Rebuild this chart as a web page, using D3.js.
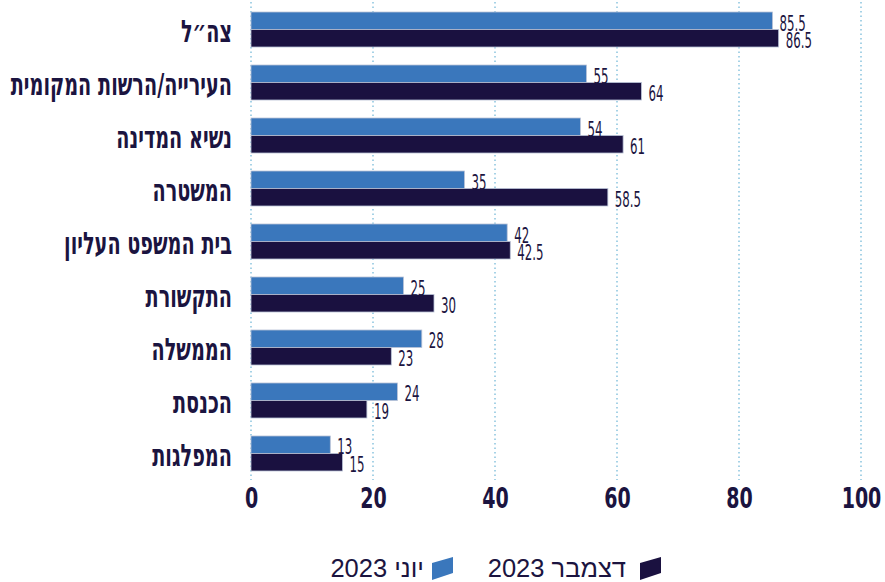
<!DOCTYPE html>
<html lang="he">
<head>
<meta charset="utf-8">
<script src="https://cdn.jsdelivr.net/npm/d3@7"></script>
<style>
  html, body { margin: 0; padding: 0; background: #fff; }
  svg { display: block; }
  .cat { font-family: "DejaVu Sans Condensed", "DejaVu Sans", sans-serif; font-weight: bold; fill: #1b1440; }
  .val { font-family: "DejaVu Sans Condensed", "DejaVu Sans", sans-serif; fill: #1b1440; }
  .tick text { font-family: "DejaVu Sans Condensed", "DejaVu Sans", sans-serif; font-weight: bold; fill: #1b1440; }
  .legend text { font-family: "Liberation Sans", "DejaVu Sans", sans-serif; fill: #1b1440; }
</style>
</head>
<body>
<svg id="chart" width="885" height="582"></svg>
<script>
/* categories, top to bottom */
let categories = ['צה״ל', 'העירייה/הרשות המקומית', 'נשיא המדינה', 'המשטרה', 'בית המשפט העליון', 'התקשורת', 'הממשלה', 'הכנסת', 'המפלגות'];
/* June 2023 */
let june = [85.5, 55, 54, 35, 42, 25, 28, 24, 13];
/* December 2023 */
let december = [86.5, 64, 61, 58.5, 42.5, 30, 23, 19, 15];
let tickValues = [0, 20, 40, 60, 80, 100];
let seriesNames = ['june', 'december'];
let seriesLabels = {june: 'יוני 2023', december: 'דצמבר 2023'};
let colors = {june: '#3a77bc', december: '#1a1140'};

let svg = d3.select('#chart');

/* x: value -> px */
let x = d3.scaleLinear().domain([0, 100]).range([251, 861]);
/* y: category rows */
let y = d3.scaleBand()
    .domain(categories)
    .range([3, 480])
    .paddingInner(18 / 53)
    .paddingOuter(0.17);
/* y inside a row: one band per series */
let ySub = d3.scaleBand().domain(seriesNames).range([0, y.bandwidth()]);

/* dotted gridlines */
svg.append('g')
    .selectAll('line')
    .data(tickValues)
    .join('line')
    .attr('x1', d => x(d))
    .attr('x2', d => x(d))
    .attr('y1', 2)
    .attr('y2', 480)
    .attr('stroke', '#a6d2e6')
    .attr('stroke-width', 2)
    .attr('stroke-dasharray', '1.5,3');

let rows = categories.map((c, i) => ({cat: c, june: june[i], december: december[i]}));

let groups = svg.append('g')
    .selectAll('g')
    .data(rows)
    .join('g')
    .attr('transform', d => `translate(0,${y(d.cat)})`);

groups.selectAll('rect')
    .data(d => seriesNames.map(s => ({s: s, v: d[s]})))
    .join('rect')
    .attr('x', x(0))
    .attr('y', d => ySub(d.s))
    .attr('width', d => x(d.v) - x(0))
    .attr('height', ySub.bandwidth())
    .attr('fill', d => colors[d.s])
    .attr('stroke', '#b9c2d6')
    .attr('stroke-width', 0.8);

/* value labels */
groups.selectAll('text.val')
    .data(d => seriesNames.map(s => ({s: s, v: d[s]})))
    .join('text')
    .attr('class', 'val')
    .attr('transform', d => `translate(${x(d.v) + 7},${ySub(d.s) + ySub.bandwidth() / 2 + 2}) scale(0.61,1)`)
    .attr('dy', '0.36em')
    .style('font-size', '21.5px')
    .text(d => d.v);

/* category labels */
svg.append('g')
    .selectAll('text')
    .data(categories)
    .join('text')
    .attr('class', 'cat')
    .attr('text-anchor', 'end')
    .attr('transform', d => `translate(232,${y(d) + y.bandwidth() / 2 + 1}) scale(0.69,1)`)
    .attr('dy', '0.36em')
    .style('font-size', '31px')
    .text(d => d);

/* x axis */
let axis = svg.append('g')
    .attr('transform', 'translate(0,485)')
    .call(d3.axisBottom(x).tickValues(tickValues).tickSize(0).tickPadding(0));
axis.select('.domain').remove();
axis.selectAll('.tick text')
    .attr('dy', '0.71em')
    .attr('y', 2)
    .style('font-size', '29px')
    .attr('transform', 'scale(0.73,1)');

/* legend */
let legend = svg.append('g').attr('class', 'legend');
let legendItems = [
    {s: 'december', sx: 640, tx: 626},
    {s: 'june', sx: 432, tx: 424}
];
legend.selectAll('path')
    .data(legendItems)
    .join('path')
    .attr('d', d => `M${d.sx},563 L${d.sx + 21},557 L${d.sx + 21},573 L${d.sx},580 Z`)
    .attr('fill', d => colors[d.s]);
legend.selectAll('text')
    .data(legendItems)
    .join('text')
    .attr('x', d => d.tx)
    .attr('y', 577)
    .attr('text-anchor', 'end')
    .style('font-size', '25.5px')
    .text(d => seriesLabels[d.s]);
</script>
</body>
</html>
